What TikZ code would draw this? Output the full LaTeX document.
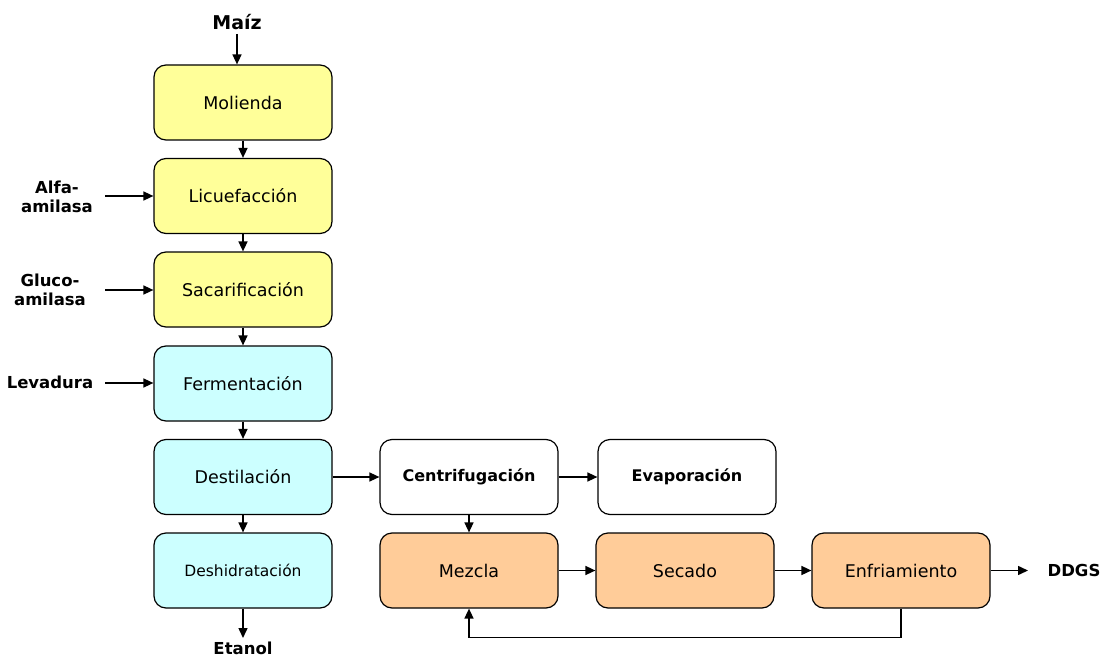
\documentclass[tikz,border=0pt]{standalone}
\usepackage{fontspec}
\setmainfont{DejaVu Sans}
\usetikzlibrary{arrows.meta}
\definecolor{yel}{HTML}{FFFF99}
\definecolor{cya}{HTML}{CCFFFF}
\definecolor{ora}{HTML}{FFCC99}
\tikzset{
  proc/.style={draw=black, line width=1.2pt, rounded corners=12pt, minimum width=178pt, minimum height=75pt, inner sep=0pt, align=center, font=\fontsize{17.5}{20}\selectfont},
  lab/.style={align=center, font=\fontsize{16.5}{19.5}\selectfont\bfseries, inner sep=0pt},
  flow/.style={line width=1.5pt, -{Triangle[length=10pt,width=9pt]}},
}
\begin{document}
\begin{tikzpicture}[x=1pt,y=-1pt]
\useasboundingbox (0,0) rectangle (1100,658);
% column 1
\node[proc, fill=yel] (mol) at (243,102.5) {Molienda};
\node[proc, fill=yel] (lic) at (243,196) {Licuefacción};
\node[proc, fill=yel] (sac) at (243,289.5) {Sacarificación};
\node[proc, fill=cya] (fer) at (243,383.5) {Fermentación};
\node[proc, fill=cya] (des) at (243,477) {Destilación};
\node[proc, fill=cya, font=\fontsize{15.5}{18}\selectfont] (deh) at (243,570.5) {Deshidratación};
% right
\node[proc, fill=white, font=\fontsize{16}{19}\selectfont\bfseries] (cen) at (469,477) {Centrifugación};
\node[proc, fill=white, font=\fontsize{16}{19}\selectfont\bfseries] (eva) at (687,477) {Evaporación};
\node[proc, fill=ora] (mez) at (469,570.5) {Mezcla};
\node[proc, fill=ora] (sec) at (685,570.5) {Secado};
\node[proc, fill=ora] (enf) at (901,570.5) {Enfriamiento};
% labels
\node[lab, font=\fontsize{19}{22}\selectfont\bfseries] (maiz) at (237,22) {Maíz};
\coordinate (maizb) at (237,34);
\node[lab] (alfa) at (57,197) {Alfa-\\amilasa};
\node[lab] (glu) at (50,290) {Gluco-\\amilasa};
\node[lab] (lev) at (50,382) {Levadura};
\node[lab] (eta) at (243,648) {Etanol};
\node[lab] (ddgs) at (1074,570) {DDGS};
\coordinate (alfae) at (105,196);
\coordinate (glue) at (105,290);
\coordinate (leve) at (105,383);
\coordinate (etae) at (243,638);
\coordinate (ddgse) at (1028,570.5);
% arrows
\draw[flow] (maizb) -- (maiz.south |- mol.north);
\draw[flow] (mol) -- (lic);
\draw[flow] (lic) -- (sac);
\draw[flow] (sac) -- (fer);
\draw[flow] (fer) -- (des);
\draw[flow] (des) -- (deh);
\draw[flow] (deh) -- (etae);
\draw[flow] (alfae) -- (alfae -| lic.west);
\draw[flow] (glue) -- (glue -| sac.west);
\draw[flow] (leve) -- (leve -| fer.west);
\draw[flow] (des) -- (cen);
\draw[flow] (cen) -- (eva);
\draw[flow] (cen) -- (mez);
\draw[flow] (mez) -- (sec);
\draw[flow] (sec) -- (enf);
\draw[flow] (enf) -- (ddgse);
\draw[flow] (enf.south) -- ++(0,29) -| (mez.south);
\end{tikzpicture}
\end{document}
